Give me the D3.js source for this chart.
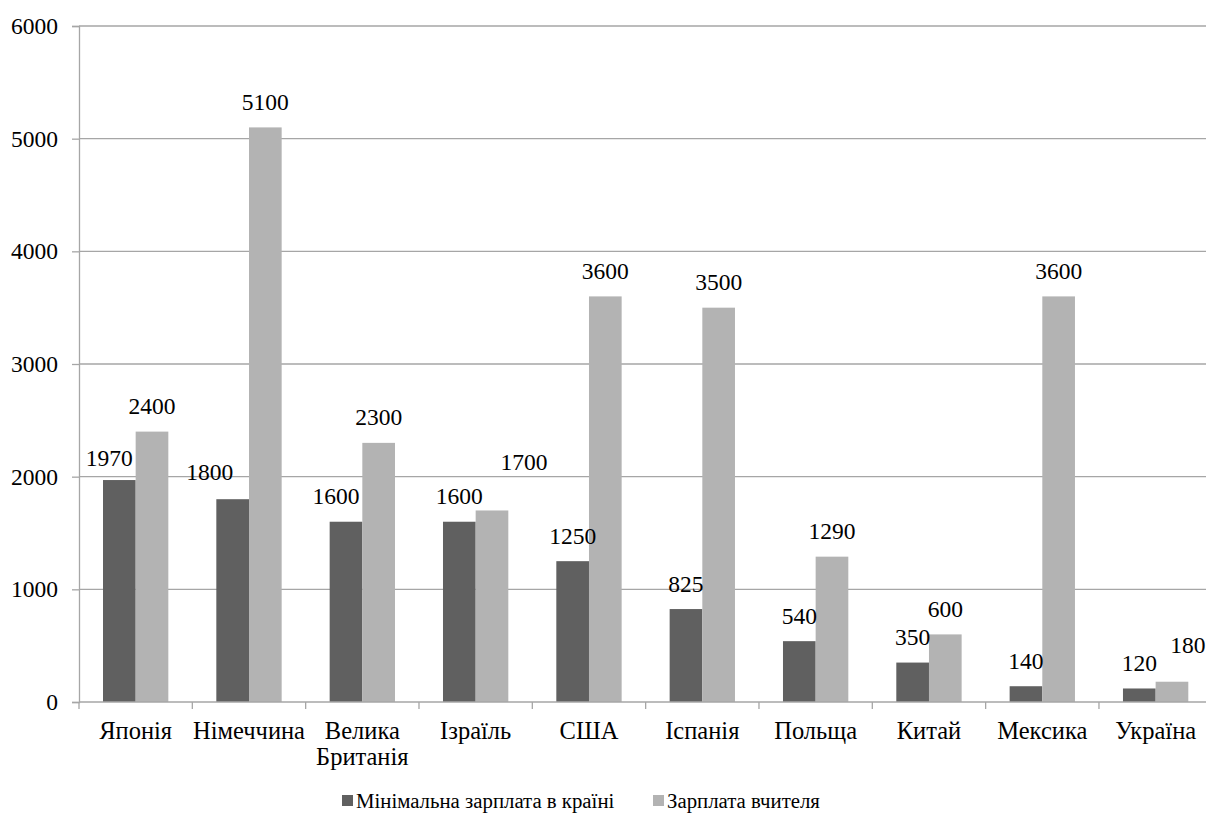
<!DOCTYPE html>
<html>
<head>
<meta charset="utf-8">
<script src="https://cdn.jsdelivr.net/npm/d3@7"></script>
<style>
  html, body { margin: 0; padding: 0; background: #fff; }
  svg { display: block; }
</style>
</head>
<body>
<script>
// ---- data ----
const categories = ["Японія", "Німеччина", "Велика\nБританія", "Ізраїль", "США", "Іспанія", "Польща", "Китай", "Мексика", "Україна"];
const seriesNames = ["Мінімальна зарплата в країні", "Зарплата вчителя"];
const minWage = [1970, 1800, 1600, 1600, 1250, 825, 540, 350, 140, 120];
const teacherWage = [2400, 5100, 2300, 1700, 3600, 3500, 1290, 600, 3600, 180];
const yTicks = [0, 1000, 2000, 3000, 4000, 5000, 6000];

// ---- style / layout ----
const W = 1206, H = 824;
const colors = ["#606060", "#b3b3b3"];
const numSize = 23.5, catSize = 24.5, legendSize = 20.8;
const FONT = "'Liberation Serif', serif";
const plot = { left: 79, top: 26, bottom: 702, right: 1212.3 };
// manual label nudges [series][category] -> [dx, dy]
const labelNudge = [
  [[-10, 3.5], [-23, -2], [-10, 0], [0, 0], [0, 0], [0, 0], [0, 0], [0, 0], [0, 0], [0, 0]],
  [[0, 0], [0, 0], [0, 0], [32, -23], [0, 0], [0, 0], [0, 0], [0, 0], [0, 0], [16, -11]]
];

const svg = d3.select("body").append("svg").attr("width", W).attr("height", H)
  .attr("font-family", FONT);

const pad = 48 / 113.33;
const x0 = d3.scaleBand().domain(d3.range(categories.length))
  .range([plot.left, plot.right]).paddingInner(pad).paddingOuter(pad / 2);
const x1 = d3.scaleBand().domain([0, 1]).range([0, x0.bandwidth()]);
const y = d3.scaleLinear().domain([0, 6000]).range([plot.bottom, plot.top]);

const gridColor = "#a6a6a6";

// gridlines
svg.append("g").selectAll("line").data(yTicks.filter(d => d > 0)).join("line")
  .attr("x1", plot.left).attr("x2", plot.right)
  .attr("y1", d => y(d)).attr("y2", d => y(d))
  .attr("stroke", gridColor).attr("stroke-width", 1.3);

// y axis
const yAxis = d3.axisLeft(y).tickValues(yTicks).tickSize(7).tickPadding(14).tickFormat(d3.format("d"));
const gy = svg.append("g").attr("transform", `translate(${plot.left},0)`).call(yAxis)
  .attr("font-family", FONT).attr("font-size", numSize);
gy.select(".domain").attr("stroke", gridColor).attr("stroke-width", 1.3);
gy.selectAll(".tick line").attr("stroke", gridColor).attr("stroke-width", 1.3);
gy.selectAll(".tick text").attr("fill", "#000").attr("font-family", FONT).attr("font-size", numSize);

// bars
const series = [minWage, teacherWage];
series.forEach((vals, si) => {
  svg.append("g").selectAll("rect").data(vals).join("rect")
    .attr("x", (d, i) => x0(i) + x1(si))
    .attr("width", x1.bandwidth())
    .attr("y", d => y(d))
    .attr("height", d => y(0) - y(d))
    .attr("fill", colors[si]);
});

// x axis
const step = x0.step();
svg.append("line").attr("x1", plot.left).attr("x2", plot.right)
  .attr("y1", y(0)).attr("y2", y(0)).attr("stroke", gridColor).attr("stroke-width", 1.3);
svg.append("g").selectAll("line").data(d3.range(categories.length + 1)).join("line")
  .attr("x1", i => plot.left + i * step).attr("x2", i => plot.left + i * step)
  .attr("y1", y(0)).attr("y2", y(0) + 7)
  .attr("stroke", gridColor).attr("stroke-width", 1.3);

const cl = svg.append("g").selectAll("text").data(categories).join("text")
  .attr("x", (d, i) => x0(i) + x0.bandwidth() / 2)
  .attr("y", 739)
  .attr("text-anchor", "middle")
  .attr("font-family", FONT)
  .attr("font-size", catSize);
cl.each(function (d) {
  const lines = d.split("\n");
  const t = d3.select(this);
  lines.forEach((ln, k) => {
    t.append("tspan").attr("x", t.attr("x")).attr("dy", k === 0 ? 0 : 25.5).text(ln);
  });
});

// data labels
series.forEach((vals, si) => {
  svg.append("g").selectAll("text").data(vals).join("text")
    .attr("x", (d, i) => x0(i) + x1(si) + x1.bandwidth() / 2 + labelNudge[si][i][0])
    .attr("y", (d, i) => y(d) - 17.5 + labelNudge[si][i][1])
    .attr("text-anchor", "middle")
    .attr("font-family", FONT)
    .attr("font-size", numSize)
    .text(d => d);
});

// legend
const legendX = [342, 653];
const lg = svg.append("g");
seriesNames.forEach((name, si) => {
  lg.append("rect").attr("x", legendX[si]).attr("y", 795).attr("width", 11).attr("height", 11).attr("fill", colors[si]);
  lg.append("text").attr("x", legendX[si] + 14).attr("y", 808)
    .attr("font-family", FONT).attr("font-size", legendSize).text(name);
});
</script>
</body>
</html>
